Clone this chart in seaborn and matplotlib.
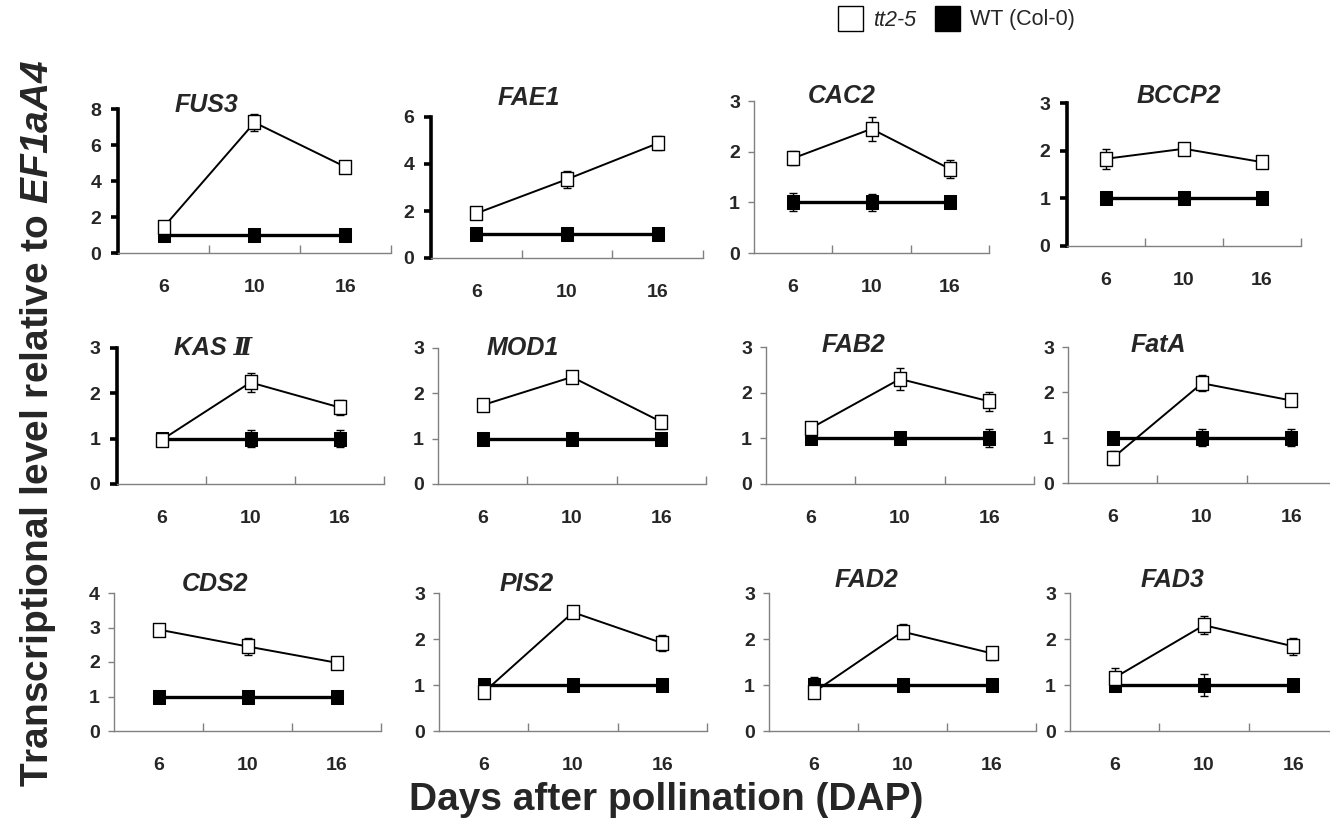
import numpy as np
import pandas as pd
import seaborn as sns
import matplotlib.pyplot as plt
from matplotlib.lines import Line2D
from matplotlib.path import Path

sns.set_theme(style="white")
plt.rcParams['font.family'] = ['Liberation Sans', 'DejaVu Sans']
plt.rcParams['mathtext.fontset'] = 'custom'
plt.rcParams['mathtext.it'] = 'Liberation Sans:bold:italic'
plt.rcParams['mathtext.rm'] = 'Liberation Sans:bold:italic'

# data
dap = ["6", "10", "16"]
genes = ["FUS3", "FAE1", "CAC2", "BCCP2",
         "KAS Ⅱ", "MOD1", "FAB2", "FatA",
         "CDS2", "PIS2", "FAD2", "FAD3"]
tt2_mean = [[1.43, 7.25, 4.78], [1.9, 3.35, 4.88], [1.87, 2.45, 1.66], [1.83, 2.04, 1.76],
            [0.97, 2.24, 1.69], [1.74, 2.36, 1.37], [1.22, 2.3, 1.81], [0.55, 2.2, 1.82],
            [2.94, 2.45, 1.98], [0.84, 2.58, 1.91], [0.84, 2.16, 1.69], [1.16, 2.3, 1.84]]
tt2_err = [[0.2, 0.45, 0.25], [0.15, 0.37, 0.3], [0.14, 0.24, 0.18], [0.21, 0.06, 0.08],
           [0.09, 0.2, 0.17], [0.07, 0.07, 0.16], [0.12, 0.24, 0.21], [0.16, 0.18, 0.08],
           [0.1, 0.24, 0.14], [0.12, 0.07, 0.17], [0.13, 0.17, 0.14], [0.2, 0.2, 0.18]]
wt_mean = [[1, 1, 1] for _ in genes]
wt_err = [[0.1, 0.12, 0.12], [0.08, 0.1, 0.1], [0.18, 0.17, 0.1], [0.05, 0.05, 0.05],
          [0.06, 0.19, 0.19], [0.05, 0.05, 0.05], [0.12, 0.11, 0.2], [0.13, 0.19, 0.19],
          [0.12, 0.12, 0.06], [0.13, 0.05, 0.05], [0.17, 0.07, 0.07], [0.13, 0.24, 0.05]]

# axis settings per panel
ymax = [8, 6, 3, 3, 3, 3, 3, 3, 4, 3, 3, 3]
ystep = [2, 2, 1, 1, 1, 1, 1, 1, 1, 1, 1, 1]
thick = [True, True, False, True, True, False, False, False, False, False, False, False]

W, H = 1330, 822
# panel boxes in pixels: left, top, right, bottom
boxes = [(118, 109, 391, 253), (431, 117, 703, 258), (754, 101, 989, 253), (1067, 103, 1301, 246),
         (117, 348, 384, 484), (438, 348, 706, 484), (766, 347, 1034, 484), (1068, 347, 1336, 483),
         (114, 593, 381, 731), (439, 593, 707, 731), (769, 593, 1036, 731), (1070, 593, 1338, 731)]
title_xy = [(206, 105), (529, 98), (842, 96), (1179, 96),
            (213, 348), (523, 348), (853, 345), (1158, 345),
            (215, 584), (527, 584), (866, 580), (1172, 580)]

rect = Path([(-0.4, -0.5), (0.4, -0.5), (0.4, 0.5), (-0.4, 0.5), (-0.4, -0.5)], closed=True)

fig = plt.figure(figsize=(13.3, 8.22), dpi=100)

for i, g in enumerate(genes):
    l, t, r, b = boxes[i]
    ax = fig.add_axes([l / W, 1 - b / H, (r - l) / W, (b - t) / H])
    xs = np.arange(3)
    df = pd.DataFrame({"x": np.tile(xs, 2),
                       "y": tt2_mean[i] + wt_mean[i],
                       "err": tt2_err[i] + wt_err[i],
                       "line": ["tt2-5"] * 3 + ["WT"] * 3})
    wt = df[df.line == "WT"]
    tt = df[df.line == "tt2-5"]
    ax.errorbar(wt.x, wt.y, yerr=wt.err, fmt='none', ecolor='black', elinewidth=1, capsize=3, capthick=1, zorder=2)
    ax.errorbar(tt.x, tt.y, yerr=tt.err, fmt='none', ecolor='black', elinewidth=1, capsize=3, capthick=1, zorder=2)
    sns.lineplot(data=wt, x="x", y="y", ax=ax, color='black', linewidth=2.4, marker=rect,
                 markersize=10, markerfacecolor='black', markeredgecolor='black', errorbar=None, zorder=3)
    sns.lineplot(data=tt, x="x", y="y", ax=ax, color='black', linewidth=1.4, marker=rect,
                 markersize=10, markerfacecolor='white', markeredgecolor='black', markeredgewidth=1,
                 errorbar=None, zorder=4)
    ax.set_xlabel("")
    ax.set_ylabel("")
    ax.set_xlim(-0.5, 2.5)
    ax.set_ylim(0, ymax[i])
    ax.set_yticks(np.arange(0, ymax[i] + 0.1, ystep[i]))
    ax.set_xticks(xs)
    ax.set_xticklabels(dap)
    ax.set_xticks([0.5, 1.5, 2.5], minor=True)
    for s in ["top", "right"]:
        ax.spines[s].set_visible(False)
    ax.spines["bottom"].set_color("#808080")
    ax.spines["bottom"].set_linewidth(1)
    if thick[i]:
        ax.spines["left"].set_color("black")
        ax.spines["left"].set_linewidth(2.6)
        ax.tick_params(axis='y', direction='out', length=5, width=2.6, color='black', pad=7, left=True)
    else:
        ax.spines["left"].set_color("#808080")
        ax.spines["left"].set_linewidth(1)
        ax.tick_params(axis='y', direction='out', length=4, width=1, color='#808080', pad=6, left=True)
    ax.tick_params(axis='x', which='major', length=0, pad=19)
    ax.tick_params(axis='x', which='minor', direction='in', length=6, width=1, color='#808080', bottom=True)
    for lab in ax.get_xticklabels() + ax.get_yticklabels():
        lab.set_fontweight('bold')
        lab.set_fontsize(14)
    tx, ty = title_xy[i]
    fig.text(tx / W, 1 - ty / H, g, ha='center', va='center', fontsize=18,
             fontweight='bold', fontstyle='italic',
             family=['Liberation Sans', 'DejaVu Serif', 'DejaVu Sans'])

# legend
handles = [Line2D([], [], ls='none', marker='s', markersize=18, markerfacecolor='white',
                  markeredgecolor='black', markeredgewidth=1),
           Line2D([], [], ls='none', marker='s', markersize=18, markerfacecolor='black',
                  markeredgecolor='black')]
leg = fig.legend(handles, ["tt2-5", "WT (Col-0)"], loc='center', bbox_to_anchor=(957 / W, 1 - 20 / H),
                 ncol=2, frameon=False, fontsize=15.5, handlelength=1.0, handletextpad=0.6,
                 columnspacing=0.9)
leg.get_texts()[0].set_fontstyle('italic')

fig.text(38 / W, 1 - 423 / H, r"Transcriptional level relative to $\mathit{EF1aA4}$",
         rotation=90, ha='center', va='center', fontsize=28, fontweight='bold')
fig.text(666 / W, 1 - 800 / H, "Days after pollination (DAP)", ha='center', va='center',
         fontsize=28, fontweight='bold')

fig.savefig("out.png", dpi=100)
